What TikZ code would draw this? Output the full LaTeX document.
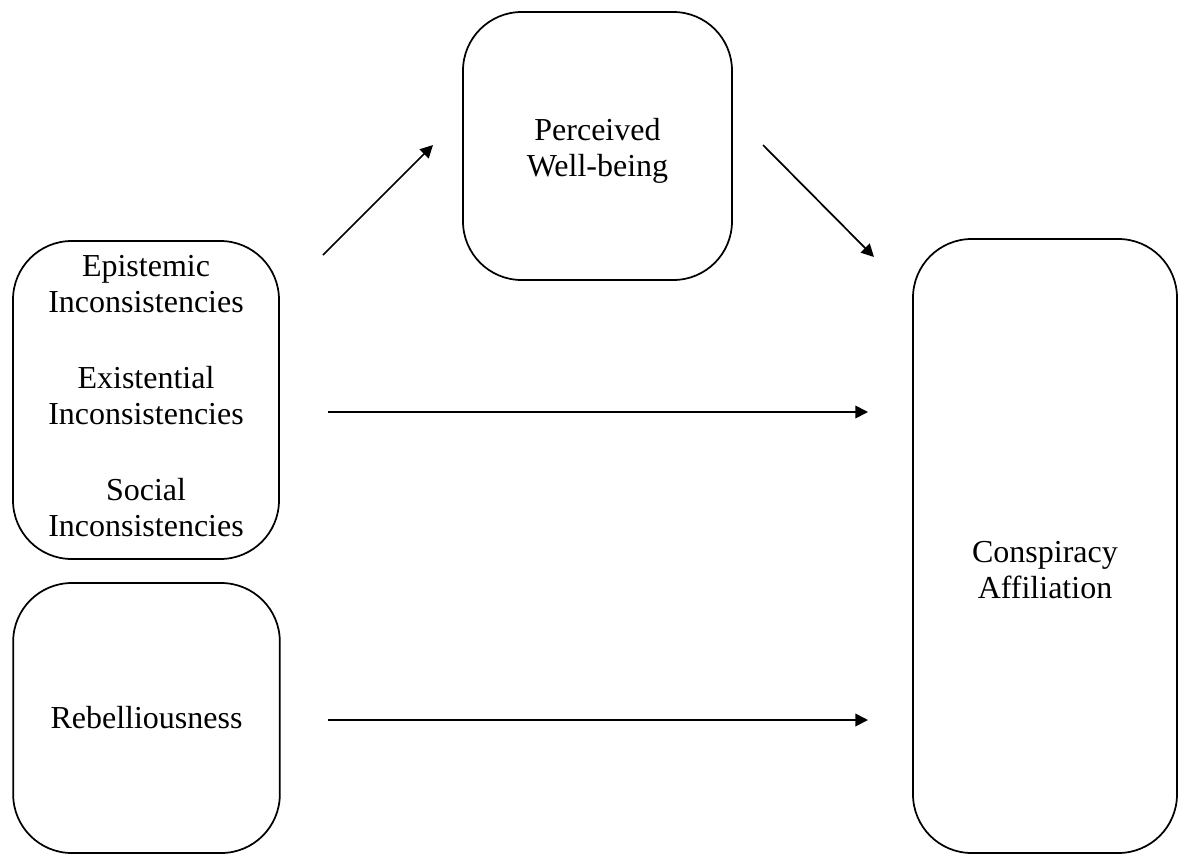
\documentclass[tikz,border=0pt]{standalone}
\usepackage{fontspec}
\setmainfont{Liberation Serif}
\usetikzlibrary{arrows.meta}

\tikzset{
  box/.style={draw, line width=1.3pt, rounded corners=44pt, align=center,
    font=\fontsize{24}{26.5}\selectfont, inner sep=0pt},
  txt/.style={align=center, font=\fontsize{24}{26.5}\selectfont, inner sep=0pt},
  link/.style={line width=1.3pt, -{Triangle[length=9.5pt,width=9.5pt]}}
}

\begin{document}
\begin{tikzpicture}[x=0.75pt,y=0.75pt,yscale=-1,xscale=1]
\useasboundingbox (0,0) rectangle (1178,854);

%Shape: Rounded Rect [id:wellbeing]
\node[box, minimum width=201.75pt, minimum height=201pt] (wellbeing) at (597.5,146) {};
\node[txt] (wellbeingtext) at (597.5,151) {Perceived\\Well-being};
%Shape: Rounded Rect [id:inconsist]
\node[box, minimum width=199.5pt, minimum height=238.5pt] (inconsist) at (146,400) {};
\node[txt] (inconsisttext) at (146,396) {Epistemic\\Inconsistencies\\[31pt]Existential\\Inconsistencies\\[31pt]Social\\Inconsistencies};
%Shape: Rounded Rect [id:rebel]
\node[box, minimum width=200pt, minimum height=202.5pt] (rebel) at (146.5,718) {Rebelliousness};
%Shape: Rounded Rect [id:conspiracy]
\node[box, minimum width=198pt, minimum height=460.5pt] (conspiracy) at (1045,546) {};
\node[txt] (conspiracytext) at (1045,570) {Conspiracy\\Affiliation};

%Arrow ends
\coordinate (e1) at (323,255);
\coordinate (e2) at (433,145);
\coordinate (e3) at (763,145);
\coordinate (e4) at (874,257);
\coordinate (e5) at (328,412);
\coordinate (e6) at (868,412);
\coordinate (e7) at (328,720);
\coordinate (e8) at (868,720);

%Straight Lines
\draw[link] (e1) -- (e2);
\draw[link] (e3) -- (e4);
\draw[link] (e5) -- (e6);
\draw[link] (e7) -- (e8);

\end{tikzpicture}
\end{document}
